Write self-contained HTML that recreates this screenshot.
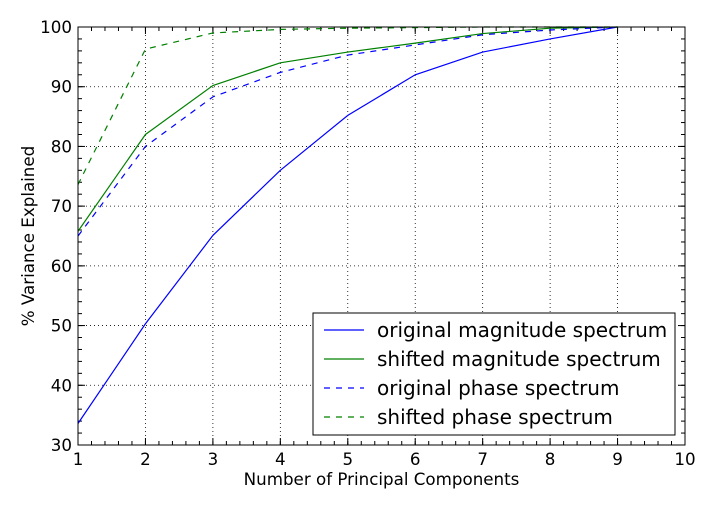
<!DOCTYPE html>
<html><head><meta charset="utf-8"><style>
body{margin:0;background:#fff}
svg text{font-family:"DejaVu Sans","Liberation Sans",sans-serif;}
</style></head><body>
<svg id="chart" width="712" height="512" xmlns="http://www.w3.org/2000/svg">
<rect width="712" height="512" fill="#fff"/>
<g id="grid"></g>
<g id="ticks"></g>
<g id="series"></g>
<rect x="78" y="27" width="607" height="418" fill="none" stroke="#000" stroke-width="1"/>
<text x="381.5" y="485" font-size="16.7" text-anchor="middle">Number of Principal Components</text>
<text transform="translate(34,236) rotate(-90)" font-size="16.7" text-anchor="middle">% Variance Explained</text>
<g id="legend">
<rect x="313" y="313" width="362" height="122" fill="#fff" stroke="#000" stroke-width="1"/>
</g>
</svg>
<script>
const xValues=[1,2,3,4,5,6,7,8,9];
const origMag=[33.6,50.3,65.1,76,85.2,92,95.8,98,100];
const shiftMag=[65.8,82,90.2,94,95.8,97.3,98.9,99.8,100];
const origPhase=[65,80,88.3,92.4,95.3,97,98.7,99.5,100];
const shiftPhase=[73.6,96.3,99,99.6,99.8,99.9,100,100,100];
const xTicks=[1,2,3,4,5,6,7,8,9,10];
const yTicks=[30,40,50,60,70,80,90,100];
const seriesNames=["original magnitude spectrum","shifted magnitude spectrum","original phase spectrum","shifted phase spectrum"];

const L=78,R=685,T=27,B=445;
const xs=v=>L+(v-1)/9*(R-L);
const ys=v=>B-(v-30)/70*(B-T);
const NS="http://www.w3.org/2000/svg";
function mk(tag,attrs,parent){const e=document.createElementNS(NS,tag);for(const k in attrs)e.setAttribute(k,attrs[k]);parent.appendChild(e);return e;}
const grid=document.getElementById('grid'),ticks=document.getElementById('ticks'),ser=document.getElementById('series'),leg=document.getElementById('legend');
xTicks.forEach(t=>{
  const x=xs(t);
  const g=mk('line',{x1:x,x2:x,y1:T,y2:B,stroke:'#000','stroke-dasharray':'1,3','stroke-width':0.8},grid);
  
  
  mk('line',{x1:x,x2:x,y1:B,y2:B-7,stroke:'#000'},ticks);
  mk('line',{x1:x,x2:x,y1:T,y2:T+7,stroke:'#000'},ticks);
  const lb=mk('text',{x:x,y:B+20,'font-size':16.7,'text-anchor':'middle'},ticks);
  lb.textContent=t;
  
  
});
for(let v=1;v<10;v+=0.2){const x=xs(v);mk('line',{x1:x,x2:x,y1:B,y2:B-4,stroke:'#000'},ticks);mk('line',{x1:x,x2:x,y1:T,y2:T+4,stroke:'#000'},ticks);}
yTicks.forEach(t=>{
  const y=ys(t);
  const g=mk('line',{x1:L,x2:R,y1:y,y2:y,stroke:'#000','stroke-dasharray':'1,3','stroke-width':0.8},grid);
  
  
  mk('line',{x1:L,x2:L+7,y1:y,y2:y,stroke:'#000'},ticks);
  mk('line',{x1:R,x2:R-7,y1:y,y2:y,stroke:'#000'},ticks);
  const lb=mk('text',{x:L-6,y:y+6,'font-size':16.7,'text-anchor':'end'},ticks);
  lb.textContent=t;
  
  
});
for(let v=30;v<100;v+=2){const y=ys(v);mk('line',{x1:L,x2:L+4,y1:y,y2:y,stroke:'#000'},ticks);mk('line',{x1:R,x2:R-4,y1:y,y2:y,stroke:'#000'},ticks);}
const defs=[[origMag,'#0000ff',''],[shiftMag,'#008000',''],[origPhase,'#0000ff','6,6'],[shiftPhase,'#008000','6,6']];
const names=['line-original-magnitude','line-shifted-magnitude','line-original-phase','line-shifted-phase'];
defs.forEach((d,i)=>{
  const pts=xValues.map((x,j)=>xs(x)+','+ys(d[0][j])).join(' ');
  const p=mk('polyline',{points:pts,fill:'none',stroke:d[1],'stroke-width':1.2,'stroke-dasharray':d[2]},ser);
  
  
  const ly=330+i*29;
  mk('line',{x1:324,x2:364,y1:ly,y2:ly,stroke:d[1],'stroke-width':1.2,'stroke-dasharray':d[2]},leg);
  const t=mk('text',{x:377,y:ly+7,'font-size':20},leg);
  t.textContent=seriesNames[i];
  
  
});
</script>
</body></html>
